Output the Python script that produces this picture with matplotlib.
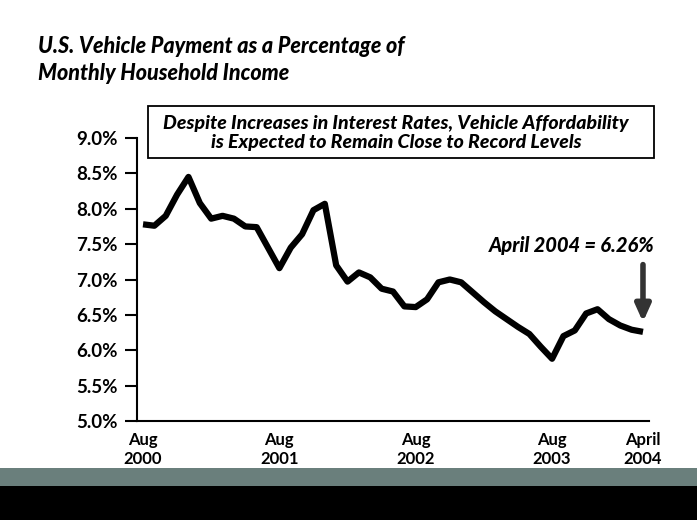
import matplotlib
matplotlib.use("Agg")
import matplotlib.pyplot as plt
from matplotlib.patches import Rectangle

plt.rcParams['font.family'] = ['Lato', 'DejaVu Sans']

# monthly values, Aug 2000 .. April 2004
months = list(range(45))
payment_pct = [7.78, 7.76, 7.90, 8.20, 8.45, 8.08, 7.86, 7.90, 7.86, 7.75,
               7.74, 7.45, 7.16, 7.45, 7.64, 7.98, 8.07, 7.20, 6.97, 7.10,
               7.03, 6.87, 6.83, 6.62, 6.61, 6.72, 6.96, 7.00, 6.96, 6.82,
               6.68, 6.55, 6.44, 6.33, 6.23, 6.05, 5.88, 6.20, 6.28, 6.52,
               6.58, 6.44, 6.35, 6.29, 6.26]

xtick_pos = [0, 12, 24, 36, 44]
xtick_labels = ["Aug\n2000", "Aug\n2001", "Aug\n2002", "Aug\n2003", "April\n2004"]
ytick_vals = [5.0, 5.5, 6.0, 6.5, 7.0, 7.5, 8.0, 8.5, 9.0]

W, H = 697, 520
fig = plt.figure(figsize=(W / 100, H / 100), dpi=100)
ax = fig.add_axes([137 / W, 1 - 421 / H, 512 / W, 283 / H])

ax.plot(months, payment_pct, color='black', lw=4.5, solid_joinstyle='round',
        solid_capstyle='butt')

ax.set_xlim(-0.53, 44.53)
ax.set_ylim(5.0, 9.0)
ax.set_xticks(xtick_pos)
ax.set_xticklabels(xtick_labels, fontsize=12, fontweight='bold', linespacing=1.2)
ax.set_yticks(ytick_vals)
ax.set_yticklabels([f"{v:.1f}%" for v in ytick_vals], fontsize=13.5, fontweight='bold')
ax.tick_params(axis='y', length=9, width=1.5, pad=5)
ax.tick_params(axis='x', length=0, pad=8)
for side in ['top', 'right']:
    ax.spines[side].set_visible(False)
for side in ['left', 'bottom']:
    ax.spines[side].set_linewidth(1.5)

# callout for last point
last_x, last_y = months[-1], payment_pct[-1]
ax.text(37.7, 7.48, f"April 2004 = {last_y:.2f}%", ha='center', va='center',
        fontsize=14.5, fontweight='black', fontstyle='italic')
ax.annotate('', xy=(last_x, last_y + 0.1), xytext=(last_x, 7.25),
            arrowprops=dict(arrowstyle='-|>,head_width=0.45,head_length=1.0',
                            lw=4, color='#333333'))

# subtitle box
fig.text(396 / W, 1 - 133 / H,
         "Despite Increases in Interest Rates, Vehicle Affordability\n"
         "is Expected to Remain Close to Record Levels",
         ha='center', va='center', fontsize=14, fontweight='black',
         fontstyle='italic', linespacing=1.2)
fig.patches.append(Rectangle((148 / W, 1 - 158 / H), 506 / W, 52 / H,
                             transform=fig.transFigure, fill=False,
                             edgecolor='black', lw=1.3))

fig.text(38 / W, 1 - 36 / H,
         "U.S. Vehicle Payment as a Percentage of\nMonthly Household Income",
         ha='left', va='top', fontsize=15.5, fontweight='black',
         fontstyle='italic', linespacing=1.35)

# footer bands
fig.patches.append(Rectangle((0, 1 - 486 / H), 1, 18 / H,
                             transform=fig.transFigure, color='#6a7f7c', lw=0))
fig.patches.append(Rectangle((0, 0), 1, 1 - 486 / H,
                             transform=fig.transFigure, color='black', lw=0))

fig.savefig('out.png', dpi=100)
